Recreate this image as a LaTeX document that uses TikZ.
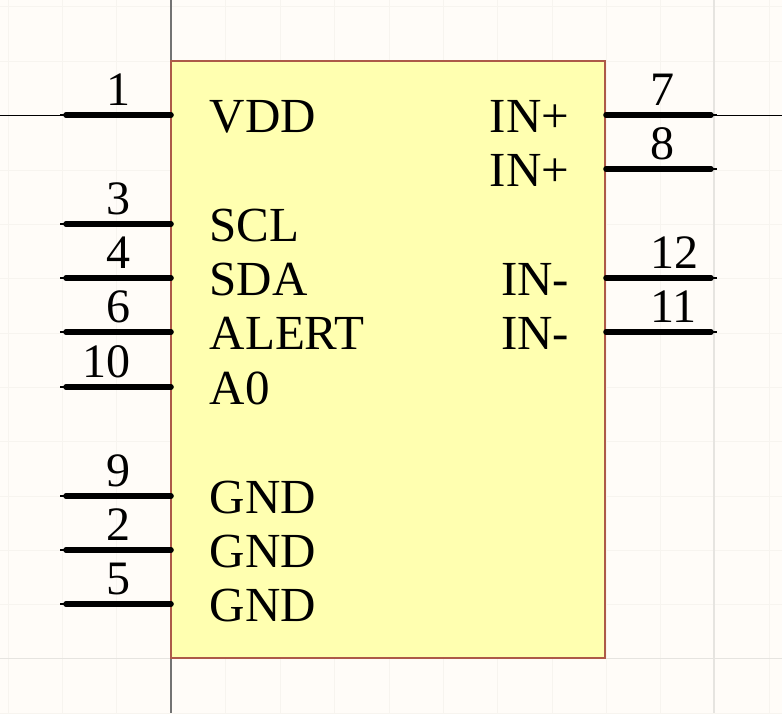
\documentclass[tikz,border=0pt]{standalone}
\usepackage{fontspec}
\setmainfont{Liberation Serif}
\definecolor{sheet}{HTML}{FFFCF8}
\definecolor{gridfaint}{HTML}{F7F4EF}
\definecolor{gridmajor}{HTML}{E6E4E0}
\definecolor{bodyfill}{HTML}{FFFFB0}
\definecolor{bodyline}{HTML}{AD5A48}
\tikzset{
  pinline/.style={line width=5.6pt,line cap=round},
  pinstub/.style={line width=2.6pt},
  wireline/.style={line width=1pt},
  pinlabel/.style={font=\fontsize{49}{49}\selectfont,inner sep=0pt},
  pinnum/.style={font=\fontsize{48}{48}\selectfont,inner sep=0pt}
}
\begin{document}
\begin{tikzpicture}[x=1pt,y=-1pt]
    \useasboundingbox (0,0) rectangle (782,713);
    \fill[sheet] (0,0) rectangle (782,713);
    \foreach \g in {8,62,116,225,280,334,389,443,497,552,606,660,769}{
        \draw[gridfaint] (\g,0)--(\g,713);
    }
    \foreach \g in {6,61,115,170,224,278,333,387,441,496,550,604,713}{
        \draw[gridfaint] (0,\g)--(782,\g);
    }
    \draw[gridmajor,line width=1.2pt] (714,0)--(714,713);
    \draw[gridmajor,line width=1.2pt] (0,658.5)--(782,658.5);
    \draw[gray!90!black,line width=1.4pt] (171,0)--(171,713);
    \node[draw=bodyline,fill=bodyfill,line width=1.6pt,inner sep=0pt,outer sep=0pt,minimum width=434pt,minimum height=597pt,anchor=north west] (body) at (171,61) {};
    % left pins
    \foreach \y/\n/\t/\k in {115/1/VDD/a, 224/3/SCL/b, 278/4/SDA/c, 332/6/ALERT/d, 387/10/A0/e, 496/9/GND/f, 550/2/GND/g, 604/5/GND/h}{
        \coordinate (l\k) at (171,\y);
        \coordinate (s\k) at (66,\y);
        \coordinate (e\k) at (60,\y);
        \draw[pinline] (l\k)--(s\k);
        \draw[pinstub] (s\k)--(e\k);
        \node[pinnum,anchor=base east] (nl\k) at (130.5,\y-10) {\n};
        \node[pinlabel,anchor=base west] (tl\k) at (209.5,\y+17) {\t};
    }
    % right pins
    \foreach \y/\n/\t/\k in {115/7/IN+/a, 169/8/IN+/b, 278/12/IN-/c, 332/11/IN-/d}{
        \coordinate (r\k) at (606,\y);
        \coordinate (q\k) at (711,\y);
        \coordinate (p\k) at (717,\y);
        \draw[pinline] (r\k)--(q\k);
        \draw[pinstub] (q\k)--(p\k);
        \node[pinnum,anchor=base west] (nr\k) at (650,\y-10) {\n};
        \node[pinlabel,anchor=base east] (tr\k) at (569.5,\y+17) {\t};
    }
    \coordinate (wl) at (0,115);
    \coordinate (wr) at (782,115);
    \draw[wireline] (wl)--(ea);
    \draw[wireline] (pa)--(wr);
\end{tikzpicture}
\end{document}
